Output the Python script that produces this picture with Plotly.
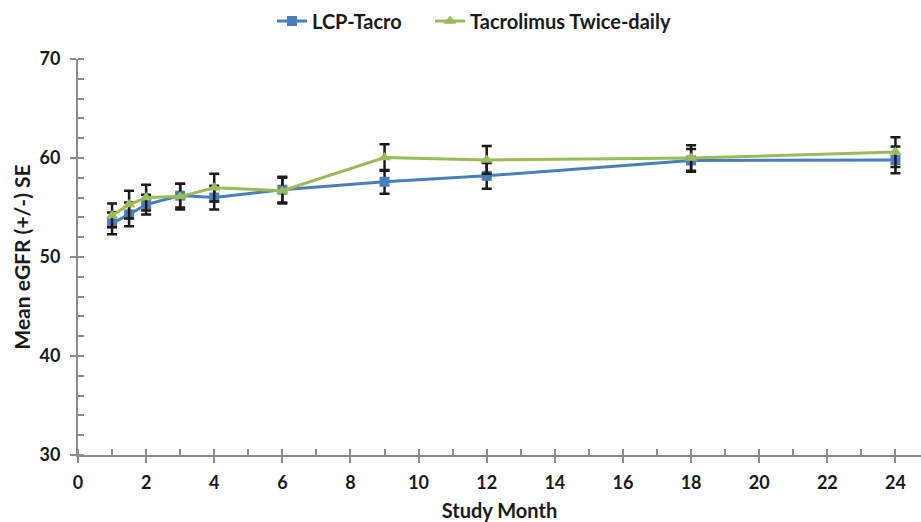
import plotly.graph_objects as go

# Study visits (months) and mean eGFR with standard errors
months = [1, 1.5, 2, 3, 4, 6, 9, 12, 18, 24]

lcp_mean = [53.4, 54.3, 55.3, 56.2, 56.0, 56.8, 57.6, 58.2, 59.75, 59.8]
lcp_se = [1.1, 1.2, 1.0, 1.2, 1.2, 1.3, 1.2, 1.3, 1.15, 1.35]

twice_mean = [54.2, 55.3, 56.0, 56.1, 57.0, 56.7, 60.05, 59.8, 60.0, 60.6]
twice_se = [1.2, 1.4, 1.3, 1.3, 1.4, 1.3, 1.35, 1.4, 1.3, 1.5]

x_ticks = list(range(0, 25, 2))
y_ticks = [30, 40, 50, 60, 70]

FONT = "Lato"
TEXT = "#1a1a1a"
BLUE = "#4A7EBB"
GREEN = "#9BBB59"
AXIS = "#8C8C8C"

fig = go.Figure()

fig.add_trace(go.Scatter(
    x=months, y=lcp_mean, name="LCP-Tacro", mode="lines+markers",
    line=dict(color=BLUE, width=3),
    marker=dict(symbol="square", size=10, color=BLUE),
    error_y=dict(type="data", array=lcp_se, visible=True,
                 color=TEXT, thickness=2.5, width=5),
    legend="legend",
))

fig.add_trace(go.Scatter(
    x=months, y=twice_mean, name="Tacrolimus Twice-daily", mode="lines+markers",
    line=dict(color=GREEN, width=3),
    marker=dict(symbol="triangle-up", size=11, color=GREEN),
    error_y=dict(type="data", array=twice_se, visible=True,
                 color=TEXT, thickness=2.5, width=5),
    legend="legend2",
))

legend_font = dict(family=FONT, size=20, color=TEXT, weight="bold")


def legend_at(px_left):
    return dict(
        orientation="h", x=(px_left - 78) / 843, xanchor="left",
        y=0.997, yref="container", yanchor="top",
        font=legend_font, bgcolor="rgba(0,0,0,0)",
    )


fig.update_layout(
    width=921, height=522,
    margin=dict(l=78, r=0, t=59, b=67),
    paper_bgcolor="white", plot_bgcolor="white",
    font=dict(family=FONT, size=18, color=TEXT, weight="bold"),
    showlegend=True,
    legend=legend_at(272),
    legend2=legend_at(430),
)

fig.update_xaxes(
    range=[0, 24.75], tickvals=x_ticks, ticktext=[str(v) for v in x_ticks],
    showgrid=False, zeroline=False,
    showline=True, linecolor=AXIS, linewidth=2,
    ticks="outside", ticklen=6, tickwidth=1.5, tickcolor=AXIS,
    minor=dict(ticks="inside", dtick=1, ticklen=6, tickwidth=1.5, tickcolor=AXIS),
    ticklabelstandoff=4,
    tickfont=dict(family=FONT, size=18, color=TEXT, weight="bold"),
    title=dict(text="Study Month", standoff=16,
               font=dict(family=FONT, size=20, color=TEXT, weight="bold")),
)

fig.update_yaxes(
    range=[30, 70], tickvals=y_ticks, ticktext=[str(v) for v in y_ticks],
    showgrid=False, zeroline=False,
    showline=True, linecolor=AXIS, linewidth=2,
    ticks="outside", ticklen=6, tickwidth=1.5, tickcolor=AXIS,
    minor=dict(ticks="inside", dtick=2, ticklen=6, tickwidth=1.5, tickcolor=AXIS),
    ticklabelstandoff=6,
    tickfont=dict(family=FONT, size=18, color=TEXT, weight="bold"),
    title=dict(text="Mean eGFR (+/-) SE", standoff=3,
               font=dict(family=FONT, size=21, color=TEXT, weight="bold")),
)

fig.write_html("out.html")
